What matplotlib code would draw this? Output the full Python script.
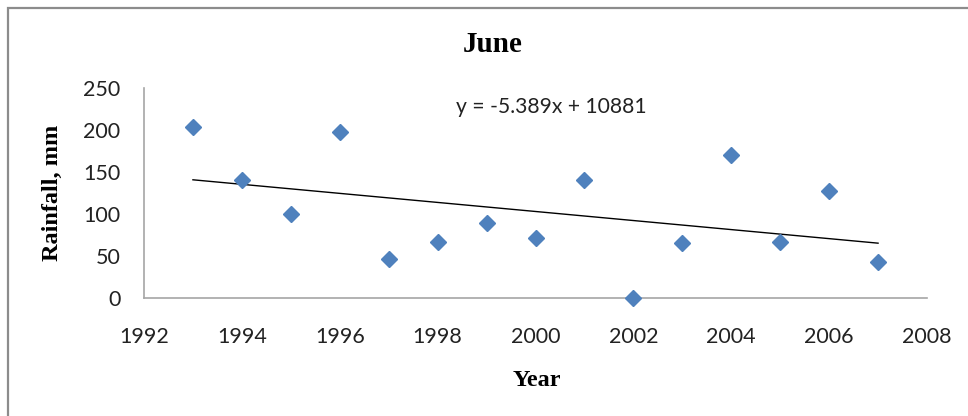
import matplotlib
matplotlib.use("Agg")
import matplotlib.pyplot as plt
from matplotlib.patches import Rectangle

years = [1993, 1994, 1995, 1996, 1997, 1998, 1999, 2000, 2001, 2002, 2003, 2004, 2005, 2006, 2007]
rainfall = [203, 140, 100, 198, 46, 67, 89, 72, 140, 0, 65, 170, 67, 127, 43]
slope = -5.389
intercept = 10881
x_ticks = [1992, 1994, 1996, 1998, 2000, 2002, 2004, 2006, 2008]
y_ticks = [0, 50, 100, 150, 200, 250]
title = "June"
xlabel = "Year"
ylabel = "Rainfall, mm"
equation = "y = -5.389x + 10881"

W, H = 968, 416
fig = plt.figure(figsize=(W / 100, H / 100), dpi=100)
fig.patch.set_facecolor("white")

# outer chart frame
fig.add_artist(Rectangle((8 / W, -0.1), 1.2, (H - 8) / H + 0.1, transform=fig.transFigure,
                         fill=False, edgecolor="#8c8c8c", linewidth=1.6))

ax = fig.add_axes([144 / W, (H - 298) / H, (927 - 144) / W, (298 - 88) / H])
ax.set_xlim(1992, 2008)
ax.set_ylim(0, 250)

ax.plot(years, rainfall, linestyle="none", marker="D", markersize=8.5,
        color="#4F81BD", markeredgecolor="#4F81BD", zorder=3, clip_on=False)

tx = [years[0], years[-1]]
ty = [slope * x + intercept for x in tx]
ax.plot(tx, ty, color="black", linewidth=1.0, zorder=2)

ax.set_xticks(x_ticks)
ax.set_yticks(y_ticks)
ax.set_xticklabels([str(v) for v in x_ticks], fontfamily="Lato", fontsize=15.5, color="#222222")
ax.set_yticklabels([str(v) for v in y_ticks], fontfamily="Lato", fontsize=15.5, color="#222222")
ax.tick_params(axis="both", length=0)
ax.tick_params(axis="x", pad=21)
ax.tick_params(axis="y", pad=17)

for s in ["top", "right"]:
    ax.spines[s].set_visible(False)
for s in ["left", "bottom"]:
    ax.spines[s].set_color("#a6a6a6")
    ax.spines[s].set_linewidth(1.2)

fig.text(493 / W, 1 - 44 / H, title, ha="center", va="center",
         fontfamily="Liberation Serif", fontweight="bold", fontsize=21)
fig.text(537 / W, 1 - 380 / H, xlabel, ha="center", va="center",
         fontfamily="Liberation Serif", fontweight="bold", fontsize=17.5)
fig.text(52 / W, 1 - 193 / H, ylabel, ha="center", va="center", rotation=90,
         fontfamily="Liberation Serif", fontweight="bold", fontsize=17.5)
fig.text(456 / W, 1 - 107 / H, equation, ha="left", va="center",
         fontfamily="Lato", fontsize=15.2, color="#222222")

fig.savefig("out.png", dpi=100, facecolor="white")
